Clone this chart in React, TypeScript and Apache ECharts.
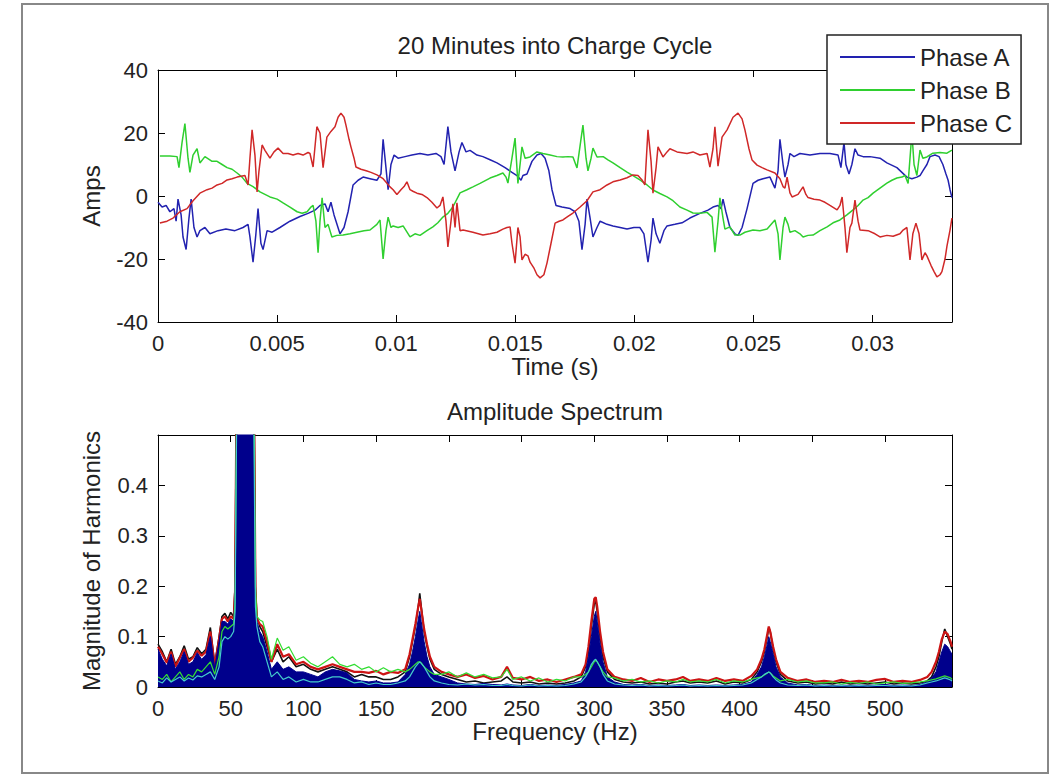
import React, { useEffect, useRef } from "react";
import * as echarts from "echarts";

// ---- Top plot: phase currents, [time in ms, amps] ----
const phaseA: [number, number][] = [
  [0.0, -2], [0.17, -3.5], [0.34, -3], [0.5, -5], [0.67, -4], [0.76, -8], [0.84, -1], [0.97, -6], [1.05, -13], [1.18, -17],
  [1.3, -7], [1.39, -1], [1.51, -10], [1.64, -13], [1.76, -11], [1.97, -10], [2.18, -12], [2.52, -11], [2.85, -10.5], [3.23, -11],
  [3.57, -10], [3.78, -9], [3.86, -13], [3.99, -21], [4.11, -12], [4.2, -4], [4.32, -15], [4.41, -17], [4.58, -11], [4.79, -11.5],
  [5.12, -10], [5.54, -8], [5.96, -6.5], [6.3, -5.5], [6.59, -4.5], [6.8, -3], [7.01, -2.5], [7.14, -5], [7.26, -2], [7.39, -6],
  [7.64, -12], [7.81, -10], [7.98, -5], [8.19, 3.5], [8.4, 5], [8.61, 6], [8.9, 5.5], [9.19, 5], [9.36, 7], [9.45, 18],
  [9.57, 9], [9.66, 2], [9.78, 10], [9.91, 13], [10.08, 12], [10.37, 12.5], [10.66, 13], [11.0, 13.5], [11.33, 13], [11.67, 13.5],
  [11.88, 12.5], [12.01, 10], [12.17, 22], [12.3, 14], [12.47, 8], [12.64, 14], [12.76, 17], [12.93, 14], [13.1, 14.5], [13.39, 13],
  [13.64, 12.5], [13.94, 11.5], [14.23, 10.5], [14.57, 9], [14.86, 7.5], [15.07, 6.5], [15.24, 5], [15.32, 6.5], [15.49, 7], [15.7, 11],
  [15.91, 13], [16.08, 13.5], [16.25, 12], [16.41, 8], [16.54, 2], [16.71, -3], [16.96, -3.5], [17.3, -4], [17.51, -5], [17.67, -8],
  [17.8, -17], [17.93, -9], [18.01, -1], [18.14, -7], [18.26, -13], [18.43, -10], [18.56, -8], [18.85, -9], [19.1, -9.5], [19.4, -10],
  [19.69, -10.5], [19.98, -10], [20.23, -10], [20.4, -12], [20.57, -21], [20.7, -14], [20.78, -7], [20.91, -12], [21.07, -15], [21.24, -11],
  [21.37, -9.5], [21.7, -9], [22.0, -8.5], [22.33, -7], [22.75, -5.5], [23.09, -4.5], [23.3, -3.5], [23.51, -3], [23.64, -4], [23.72, -1],
  [23.84, -5], [24.01, -10], [24.22, -12], [24.35, -12.5], [24.52, -10], [24.73, -4], [24.98, 4], [25.19, 5], [25.4, 5.5], [25.69, 6],
  [25.9, 2.5], [26.03, 8], [26.11, 18], [26.24, 10], [26.32, 6], [26.45, 10], [26.53, 13.5], [26.7, 12.5], [26.95, 13.5], [27.37, 13],
  [27.79, 13.5], [28.21, 13.5], [28.55, 13], [28.67, 9], [28.8, 17], [28.88, 10], [29.01, 7], [29.13, 10], [29.26, 15], [29.39, 13],
  [29.6, 12.5], [29.89, 12.5], [30.31, 12], [30.6, 10.5], [31.02, 9], [31.44, 6], [31.65, 5.5], [31.86, 6], [31.99, 6.5], [32.11, 8],
  [32.28, 10], [32.41, 12.5], [32.62, 13], [32.79, 12.5], [32.95, 10], [33.08, 7], [33.17, 5], [33.25, 2], [33.33, -0.5],
];

const phaseB: [number, number][] = [
  [0.08, 12.7], [0.5, 12.7], [0.8, 12.5], [0.88, 9], [1.01, 17], [1.13, 23], [1.26, 12], [1.34, 7.5], [1.47, 13], [1.64, 15],
  [1.76, 10.5], [1.97, 12.5], [2.27, 11], [2.48, 11], [2.69, 10], [2.9, 9], [3.11, 8.5], [3.32, 7.3], [3.53, 6], [3.74, 4],
  [3.99, 3], [4.28, 1.3], [4.49, 0.5], [4.7, -0.3], [5.0, -1], [5.25, -2.2], [5.54, -3.5], [5.84, -5], [6.05, -5.5], [6.26, -5],
  [6.42, -3.5], [6.51, -3], [6.63, -8], [6.72, -18], [6.8, -8], [6.89, -0.6], [7.01, -10], [7.14, -9], [7.3, -13], [7.51, -12.5],
  [7.77, -12.4], [8.06, -12], [8.35, -11.5], [8.65, -11], [8.9, -10.8], [9.19, -9], [9.32, -7.6], [9.45, -20], [9.57, -11], [9.66, -6.7],
  [9.78, -10], [9.87, -9.5], [10.08, -10], [10.29, -9.5], [10.58, -13], [10.79, -12], [11.0, -12.5], [11.29, -11], [11.54, -9.8], [11.75, -8.5],
  [11.96, -6.7], [12.17, -5.5], [12.38, -3.5], [12.68, 1], [12.97, 2], [13.22, 2.9], [13.52, 4], [13.94, 5.7], [14.23, 6.5], [14.48, 7.3],
  [14.61, 6], [14.69, 4.1], [14.86, 12], [14.99, 18.4], [15.11, 4], [15.2, 10], [15.28, 15.6], [15.41, 12], [15.62, 12.4], [15.91, 14],
  [16.16, 13.5], [16.46, 13], [16.75, 12.5], [17.0, 12.4], [17.21, 12.5], [17.42, 12.4], [17.59, 8.9], [17.72, 16], [17.84, 22.5], [17.97, 12],
  [18.05, 8], [18.18, 12], [18.26, 15.2], [18.43, 12.4], [18.69, 12.5], [18.89, 11.5], [19.1, 10.5], [19.4, 9], [19.69, 7.6], [19.94, 6.5],
  [20.23, 5.1], [20.53, 3.5], [20.78, 1.9], [21.07, 0.8], [21.37, -0.3], [21.62, -1.5], [21.91, -3.5], [22.21, -4.5], [22.46, -5.4], [22.75, -5.5],
  [23.05, -5.2], [23.26, -6.7], [23.38, -17.8], [23.51, -8], [23.59, -0.6], [23.72, -7], [23.8, -10.5], [24.01, -9.8], [24.22, -12.4], [24.43, -12.4],
  [24.64, -11.5], [24.98, -10.8], [25.27, -11], [25.57, -10.5], [25.9, -7.6], [26.03, -12], [26.11, -20.3], [26.24, -10], [26.32, -6.7], [26.45, -9],
  [26.53, -11.5], [26.74, -11], [26.95, -12], [27.08, -13], [27.29, -12.5], [27.5, -12.4], [27.79, -11], [28.09, -9.8], [28.34, -8.5], [28.63, -7.6],
  [28.92, -6], [29.18, -4.4], [29.39, -3], [29.6, -1.3], [29.81, -0.5], [30.02, 0.9], [30.31, 2.5], [30.6, 4.1], [30.81, 5], [31.02, 5.7],
  [31.23, 6], [31.36, 6.5], [31.49, 4], [31.65, 20], [31.74, 10], [31.86, 6.5], [31.99, 14.6], [32.11, 12], [32.28, 12.4], [32.53, 13.6],
  [32.83, 13.8], [33.12, 13.6], [33.33, 14.6],
];

const phaseC: [number, number][] = [
  [0.08, -8.6], [0.38, -8], [0.63, -7], [0.92, -5], [1.22, -4], [1.47, -1.5], [1.76, 0.9], [2.06, 2], [2.27, 2.5], [2.48, 3.5],
  [2.69, 4], [2.9, 5.1], [3.11, 5.5], [3.32, 6], [3.65, 6.5], [3.78, 3.5], [3.86, 12], [3.95, 21], [4.07, 13], [4.16, 1.3],
  [4.24, 8], [4.37, 16.2], [4.49, 14.5], [4.7, 12], [4.87, 14], [5.04, 15.2], [5.25, 13.5], [5.46, 13.5], [5.67, 13], [5.88, 13.5],
  [6.09, 13], [6.3, 13.8], [6.38, 13.5], [6.51, 9.2], [6.67, 22], [6.8, 20], [6.93, 9], [7.09, 18.7], [7.26, 20.5], [7.43, 22],
  [7.56, 25], [7.68, 26.3], [7.81, 25], [7.89, 22.5], [8.02, 18], [8.1, 15.6], [8.23, 12], [8.31, 9.2], [8.52, 8.5], [8.74, 8],
  [8.94, 7.5], [9.19, 6.7], [9.45, 5.5], [9.74, 2.9], [9.87, 2], [10.03, 0.5], [10.2, 2], [10.33, 3], [10.45, 4.5], [10.58, 2],
  [10.7, 1.5], [10.87, 0.9], [11.08, 0.5], [11.29, -0.5], [11.5, -2], [11.71, -3.8], [11.84, -3], [11.96, -0.3], [12.09, -8], [12.17, -16.2],
  [12.3, -8], [12.38, -2.5], [12.47, -10], [12.55, -2.2], [12.68, -11], [12.81, -10.8], [13.22, -11.5], [13.64, -12.4], [13.94, -12], [14.23, -11.5],
  [14.48, -10.5], [14.65, -10], [14.78, -9.8], [14.86, -15], [14.99, -21.3], [15.11, -10], [15.2, -13], [15.28, -20.3], [15.41, -18.5], [15.53, -19],
  [15.62, -21], [15.79, -23], [15.91, -25], [16.04, -26], [16.2, -25], [16.33, -21.3], [16.5, -15], [16.67, -8.6], [16.84, -8], [17.0, -7.6],
  [17.21, -6.5], [17.42, -5.4], [17.72, -3.5], [18.01, -1.5], [18.26, 1.3], [18.56, 2], [18.85, 3.5], [19.1, 4.5], [19.4, 5.1], [19.69, 5.8],
  [19.94, 6.7], [20.15, 6.5], [20.32, 5.1], [20.44, 3.5], [20.57, 21], [20.7, 11], [20.78, 0.9], [20.91, 9], [20.99, 15.6], [21.2, 12.4],
  [21.37, 14], [21.49, 15], [21.79, 14], [22.21, 13.5], [22.46, 14], [22.75, 13], [23.05, 13.5], [23.17, 9.2], [23.3, 15], [23.38, 22],
  [23.51, 9.5], [23.68, 18.7], [23.89, 21], [24.14, 25], [24.35, 26.3], [24.52, 24.5], [24.64, 21], [24.81, 15], [24.94, 11.4], [25.15, 9.8],
  [25.36, 9], [25.57, 8.3], [25.9, 7.3], [26.11, 5.5], [26.24, 3], [26.32, 2.5], [26.41, 6], [26.53, 1], [26.62, -0.3], [26.87, 0.5],
  [27.08, 2.9], [27.2, 0.5], [27.29, -0.5], [27.54, -1], [27.79, -1.3], [28.0, -2], [28.21, -3], [28.51, -4.4], [28.63, -3], [28.72, -0.3],
  [28.84, -10], [28.92, -18], [29.05, -10], [29.13, -8.6], [29.26, -1.3], [29.39, -8], [29.47, -10.8], [29.81, -11], [30.1, -12], [30.31, -13],
  [30.6, -12.5], [30.86, -12.8], [31.15, -12], [31.28, -10.8], [31.44, -10], [31.57, -20.3], [31.69, -12], [31.82, -8.6], [31.95, -12], [32.07, -20.3],
  [32.2, -18], [32.28, -19], [32.45, -22], [32.58, -24], [32.7, -25.7], [32.83, -25], [32.91, -24], [33.04, -20], [33.12, -16], [33.25, -10.8],
  [33.33, -7],
];

const timeTicks = [0, 0.005, 0.01, 0.015, 0.02, 0.025, 0.03];
const ampTicks = [-40, -20, 0, 20, 40];

// ---- Bottom plot: amplitude spectrum ----
const freqHz = [
  0, 3, 6, 9, 12, 15, 18, 21, 24, 27,
  30, 33, 36, 39, 42, 44, 46, 48, 50, 52,
  53, 54, 56, 58, 60, 62, 64, 66, 67, 68,
  70, 72, 75, 78, 82, 86, 90, 95, 100, 105,
  110, 115, 120, 125, 130, 135, 140, 145, 150, 155,
  160, 165, 170, 173, 175, 177, 179, 180, 181, 183,
  185, 187, 190, 195, 200, 206, 212, 218, 224, 230,
  236, 240, 244, 250, 256, 262, 268, 274, 280, 286,
  291, 294, 296, 298, 300, 301, 302, 304, 306, 309,
  314, 320, 326, 332, 338, 344, 350, 356, 361, 366,
  372, 378, 384, 390, 396, 402, 408, 412, 415, 417,
  419, 420, 421, 423, 425, 428, 433, 440, 446, 452,
  458, 464, 470, 476, 482, 488, 494, 500, 506, 512,
  518, 524, 529, 532, 535, 537, 539, 541, 543, 545,
  546,
];

const magBlack = [
  0.085, 0.07, 0.05, 0.075, 0.045, 0.06, 0.082, 0.055, 0.06, 0.078,
  0.066, 0.075, 0.118, 0.045, 0.1, 0.14, 0.146, 0.135, 0.148, 0.14,
  0.2, 0.6, 0.9, 1.2, 1.4, 1.2, 0.9, 0.6, 0.2, 0.14,
  0.12, 0.11, 0.08, 0.05, 0.075, 0.05, 0.06, 0.04, 0.045, 0.035,
  0.03, 0.035, 0.04, 0.035, 0.03, 0.02, 0.025, 0.02, 0.02, 0.015,
  0.015, 0.02, 0.03, 0.06, 0.09, 0.12, 0.16, 0.186, 0.16, 0.11,
  0.08, 0.055, 0.035, 0.025, 0.02, 0.015, 0.01, 0.012, 0.008, 0.01,
  0.012, 0.02, 0.01, 0.008, 0.01, 0.006, 0.008, 0.006, 0.008, 0.012,
  0.02, 0.04, 0.07, 0.12, 0.165, 0.17, 0.15, 0.1, 0.06, 0.03,
  0.015, 0.01, 0.008, 0.01, 0.006, 0.008, 0.006, 0.01, 0.012, 0.008,
  0.01, 0.008, 0.012, 0.006, 0.01, 0.008, 0.015, 0.03, 0.05, 0.07,
  0.1, 0.118, 0.11, 0.075, 0.05, 0.025, 0.012, 0.008, 0.01, 0.006,
  0.008, 0.006, 0.01, 0.006, 0.008, 0.006, 0.008, 0.01, 0.006, 0.008,
  0.006, 0.008, 0.012, 0.02, 0.04, 0.06, 0.09, 0.115, 0.1, 0.085,
  0.075,
];

const magRed = [
  0.08, 0.065, 0.048, 0.07, 0.04, 0.058, 0.075, 0.05, 0.058, 0.072,
  0.062, 0.07, 0.11, 0.042, 0.095, 0.135, 0.14, 0.13, 0.14, 0.135,
  0.19, 0.58, 0.88, 1.18, 1.38, 1.18, 0.88, 0.58, 0.19, 0.135,
  0.125, 0.12, 0.09, 0.05, 0.085, 0.06, 0.065, 0.045, 0.05, 0.04,
  0.035, 0.04, 0.045, 0.04, 0.035, 0.03, 0.03, 0.028, 0.032, 0.025,
  0.03, 0.028, 0.035, 0.065, 0.095, 0.125, 0.16, 0.175, 0.155, 0.115,
  0.085, 0.06, 0.04, 0.03, 0.025, 0.02, 0.025, 0.018, 0.022, 0.015,
  0.02, 0.04, 0.018, 0.015, 0.02, 0.012, 0.015, 0.01, 0.015, 0.02,
  0.025, 0.045, 0.08, 0.13, 0.175, 0.178, 0.16, 0.11, 0.07, 0.035,
  0.02, 0.015, 0.012, 0.018, 0.01, 0.015, 0.012, 0.015, 0.02, 0.012,
  0.015, 0.012, 0.018, 0.012, 0.015, 0.012, 0.022, 0.035, 0.055, 0.075,
  0.105, 0.12, 0.11, 0.08, 0.055, 0.03, 0.018, 0.012, 0.015, 0.01,
  0.012, 0.01, 0.014, 0.01, 0.012, 0.01, 0.014, 0.016, 0.01, 0.012,
  0.01, 0.014, 0.02, 0.03, 0.05, 0.07, 0.095, 0.11, 0.105, 0.09,
  0.08,
];

const magBlue = [
  0.075, 0.055, 0.042, 0.065, 0.035, 0.05, 0.07, 0.045, 0.05, 0.068,
  0.055, 0.064, 0.1, 0.038, 0.09, 0.13, 0.13, 0.125, 0.135, 0.13,
  0.18, 0.55, 0.85, 1.15, 1.35, 1.15, 0.85, 0.55, 0.17, 0.13,
  0.11, 0.1, 0.07, 0.035, 0.05, 0.035, 0.04, 0.03, 0.03, 0.025,
  0.02, 0.03, 0.035, 0.032, 0.028, 0.015, 0.012, 0.01, 0.012, 0.008,
  0.008, 0.01, 0.025, 0.045, 0.07, 0.1, 0.135, 0.15, 0.13, 0.09,
  0.06, 0.04, 0.025, 0.02, 0.015, 0.008, 0.006, 0.005, 0.007, 0.005,
  0.004, 0.006, 0.004, 0.003, 0.005, 0.003, 0.004, 0.003, 0.005, 0.008,
  0.012, 0.03, 0.06, 0.1, 0.14, 0.15, 0.13, 0.085, 0.05, 0.02,
  0.01, 0.005, 0.004, 0.005, 0.003, 0.004, 0.003, 0.004, 0.005, 0.003,
  0.004, 0.003, 0.004, 0.003, 0.004, 0.005, 0.01, 0.025, 0.04, 0.06,
  0.085, 0.1, 0.09, 0.065, 0.04, 0.02, 0.008, 0.004, 0.005, 0.003,
  0.004, 0.003, 0.004, 0.003, 0.004, 0.003, 0.004, 0.005, 0.003, 0.004,
  0.003, 0.005, 0.01, 0.018, 0.03, 0.05, 0.07, 0.085, 0.08, 0.07,
  0.065,
];

const magGreen = [
  0.02, 0.015, 0.025, 0.01, 0.02, 0.03, 0.015, 0.025, 0.02, 0.035,
  0.03, 0.04, 0.05, 0.025, 0.06, 0.11, 0.12, 0.115, 0.12, 0.125,
  0.17, 0.55, 0.85, 1.1, 1.3, 1.1, 0.85, 0.6, 0.2, 0.14,
  0.133, 0.13, 0.1, 0.055, 0.097, 0.073, 0.08, 0.053, 0.06, 0.047,
  0.04, 0.05, 0.06, 0.045, 0.04, 0.045, 0.035, 0.04, 0.03, 0.038,
  0.03, 0.035, 0.03, 0.035, 0.04, 0.045, 0.05, 0.05, 0.048, 0.04,
  0.035, 0.03, 0.025, 0.025, 0.03, 0.02, 0.028, 0.02, 0.025, 0.018,
  0.02, 0.035, 0.015, 0.02, 0.012, 0.018, 0.01, 0.015, 0.012, 0.02,
  0.02, 0.025, 0.03, 0.04, 0.05, 0.053, 0.05, 0.04, 0.03, 0.02,
  0.018, 0.012, 0.015, 0.01, 0.012, 0.008, 0.012, 0.01, 0.015, 0.01,
  0.012, 0.01, 0.015, 0.008, 0.012, 0.01, 0.015, 0.018, 0.02, 0.024,
  0.028, 0.03, 0.028, 0.022, 0.018, 0.012, 0.015, 0.01, 0.012, 0.008,
  0.008, 0.01, 0.006, 0.009, 0.007, 0.01, 0.006, 0.008, 0.01, 0.007,
  0.008, 0.01, 0.012, 0.014, 0.016, 0.018, 0.02, 0.022, 0.02, 0.018,
  0.015,
];

const magCyan = [
  0.012, 0.008, 0.018, 0.01, 0.015, 0.02, 0.012, 0.018, 0.014, 0.022,
  0.02, 0.025, 0.03, 0.015, 0.04, 0.09, 0.1, 0.095, 0.1, 0.11,
  0.15, 0.5, 0.8, 1.0, 1.2, 1.0, 0.8, 0.5, 0.16, 0.12,
  0.09, 0.08, 0.05, 0.02, 0.03, 0.015, 0.02, 0.01, 0.015, 0.01,
  0.01, 0.015, 0.02, 0.02, 0.015, 0.008, 0.01, 0.005, 0.008, 0.005,
  0.005, 0.008, 0.012, 0.02, 0.03, 0.04, 0.047, 0.05, 0.047, 0.04,
  0.03, 0.02, 0.012, 0.008, 0.005, 0.004, 0.006, 0.004, 0.005, 0.003,
  0.003, 0.005, 0.003, 0.002, 0.004, 0.002, 0.003, 0.002, 0.003, 0.006,
  0.01, 0.02, 0.03, 0.045, 0.053, 0.055, 0.05, 0.04, 0.025, 0.012,
  0.006, 0.004, 0.003, 0.004, 0.002, 0.003, 0.002, 0.003, 0.004, 0.002,
  0.003, 0.002, 0.003, 0.002, 0.003, 0.004, 0.008, 0.015, 0.02, 0.025,
  0.028, 0.03, 0.028, 0.02, 0.014, 0.008, 0.004, 0.003, 0.004, 0.002,
  0.003, 0.002, 0.003, 0.002, 0.003, 0.002, 0.003, 0.003, 0.002, 0.003,
  0.002, 0.004, 0.008, 0.01, 0.012, 0.014, 0.016, 0.018, 0.016, 0.014,
  0.012,
];

const FONT = "'Liberation Sans', Arial, Helvetica, sans-serif";
const TEXT = "#222";

export default function App() {
  const ref = useRef<HTMLDivElement>(null);

  useEffect(() => {
    if (!ref.current) return;
    const chart = echarts.init(ref.current, null, { renderer: "svg" });

    const axisLine = { show: true, onZero: false, lineStyle: { color: "#000", width: 1 } };
    const axisTick = { show: true, inside: true, length: 7, lineStyle: { color: "#000", width: 1 } };
    const lbl = { color: TEXT, fontSize: 22, fontFamily: FONT };
    const nameStyle = { color: TEXT, fontSize: 24, fontFamily: FONT };
    const onTick = (step: number, list: number[]) => (v: number) => {
      const hit = list.find((t) => Math.abs(t - v) < step * 1e-4);
      return hit === undefined ? "" : String(hit);
    };

    const spec = (vals: number[]) => freqHz.map((f, i) => [f, vals[i]]);
    const toSec = (arr: [number, number][]) => arr.map(([ms, a]) => [ms / 1000, a]);

    const option: any = {
      animation: false,
      backgroundColor: "#fff",
      textStyle: { fontFamily: FONT },
      grid: [
        { left: 158, top: 70, width: 794, height: 252, containLabel: false },
        { left: 158, top: 435, width: 794, height: 252, containLabel: false },
      ],
      legend: {
        data: ["Phase A", "Phase B", "Phase C"],
        orient: "vertical",
        left: 827,
        top: 35,
        padding: [10, 9, 9, 13],
        itemGap: 9,
        itemWidth: 75,
        itemHeight: 2,
        icon: "rect",
        selectedMode: false,
        backgroundColor: "#fff",
        borderColor: "#222",
        borderWidth: 1.5,
        textStyle: { color: TEXT, fontSize: 24, fontFamily: FONT, lineHeight: 24 },
        z: 20,
      },
      xAxis: [
        {
          type: "value", gridIndex: 0, min: 0, max: 1 / 30, interval: 0.005, position: "bottom",
          axisLine, axisTick, splitLine: { show: false },
          axisLabel: { ...lbl, margin: 10, formatter: onTick(0.005, timeTicks) },
          name: "Time (s)", nameLocation: "middle", nameGap: 29, nameTextStyle: nameStyle,
        },
        {
          type: "value", gridIndex: 0, min: 0, max: 1 / 30, interval: 0.005, position: "top",
          axisLine, axisTick, axisLabel: { show: false }, splitLine: { show: false },
        },
        {
          type: "value", gridIndex: 1, min: 0, max: 546, interval: 50, position: "bottom",
          axisLine, axisTick, splitLine: { show: false },
          axisLabel: { ...lbl, margin: 10, formatter: (v: number) => (v % 50 === 0 ? String(v) : "") },
          name: "Frequency (Hz)", nameLocation: "middle", nameGap: 31, nameTextStyle: nameStyle,
        },
        {
          type: "value", gridIndex: 1, min: 0, max: 546, interval: 50, position: "top",
          axisLine, axisTick, axisLabel: { show: false }, splitLine: { show: false },
        },
      ],
      yAxis: [
        {
          type: "value", gridIndex: 0, min: -40, max: 40, interval: 20, position: "left",
          axisLine, axisTick, splitLine: { show: false },
          axisLabel: { ...lbl, margin: 10, formatter: onTick(20, ampTicks) },
          name: "Amps", nameLocation: "middle", nameGap: 55, nameTextStyle: nameStyle,
        },
        {
          type: "value", gridIndex: 0, min: -40, max: 40, interval: 20, position: "right",
          axisLine, axisTick, axisLabel: { show: false }, splitLine: { show: false },
        },
        {
          type: "value", gridIndex: 1, min: 0, max: 0.5, interval: 0.1, position: "left",
          axisLine, axisTick, splitLine: { show: false },
          axisLabel: {
            ...lbl, margin: 10,
            formatter: (v: number) => (v >= 0.45 ? "" : v === 0 ? "0" : v.toFixed(1)),
          },
          name: "Magnitude of Harmonics", nameLocation: "middle", nameGap: 55, nameTextStyle: nameStyle,
        },
        {
          type: "value", gridIndex: 1, min: 0, max: 0.5, interval: 0.1, position: "right",
          axisLine, axisTick, axisLabel: { show: false }, splitLine: { show: false },
        },
      ],
      series: [
        {
          name: "Phase A", type: "line", xAxisIndex: 0, yAxisIndex: 0, symbol: "none",
          data: toSec(phaseA), lineStyle: { color: "#2222b0", width: 1.5 }, itemStyle: { color: "#2222b0" },
        },
        {
          name: "Phase B", type: "line", xAxisIndex: 0, yAxisIndex: 0, symbol: "none",
          data: toSec(phaseB), lineStyle: { color: "#2fcf2f", width: 1.5 }, itemStyle: { color: "#2fcf2f" },
        },
        {
          name: "Phase C", type: "line", xAxisIndex: 0, yAxisIndex: 0, symbol: "none",
          data: toSec(phaseC), lineStyle: { color: "#d02828", width: 1.5 }, itemStyle: { color: "#d02828" },
        },
        {
          name: "black", type: "line", xAxisIndex: 2, yAxisIndex: 2, symbol: "none", clip: true, z: 2,
          data: spec(magBlack), lineStyle: { color: "#111", width: 1.6 },
        },
        {
          name: "red", type: "line", xAxisIndex: 2, yAxisIndex: 2, symbol: "none", clip: true, z: 2,
          data: spec(magRed), lineStyle: { color: "#cc1414", width: 2.2 },
        },
        {
          name: "blue", type: "line", xAxisIndex: 2, yAxisIndex: 2, symbol: "none", clip: true, z: 3,
          data: spec(magBlue), lineStyle: { color: "#00008c", width: 1 }, areaStyle: { color: "#00008c", opacity: 1 },
        },
        {
          name: "green", type: "line", xAxisIndex: 2, yAxisIndex: 2, symbol: "none", clip: true, z: 4,
          data: spec(magGreen), lineStyle: { color: "#33dd33", width: 1.2 },
        },
        {
          name: "cyan", type: "line", xAxisIndex: 2, yAxisIndex: 2, symbol: "none", clip: true, z: 4,
          data: spec(magCyan), lineStyle: { color: "#44cccc", width: 1.2 },
        },
      ],
      graphic: [
        {
          type: "rect", silent: true, z: 0,
          shape: { x: 22, y: 4, width: 1026, height: 769 },
          style: { fill: "none", stroke: "#888", lineWidth: 2 },
        },
        {
          type: "text", x: 555, y: 45, silent: true,
          style: { text: "20 Minutes into Charge Cycle", font: `24px ${FONT}`, fill: TEXT, align: "center", verticalAlign: "middle" },
        },
        {
          type: "text", x: 555, y: 411, silent: true,
          style: { text: "Amplitude Spectrum", font: `24px ${FONT}`, fill: TEXT, align: "center", verticalAlign: "middle" },
        },
      ],
    };

    chart.setOption(option);
    return () => chart.dispose();
  }, []);

  return (
    <div
      ref={ref}
      style={{ position: "absolute", left: 0, top: 0, width: 1056, height: 775, background: "#fff" }}
    />
  );
}
